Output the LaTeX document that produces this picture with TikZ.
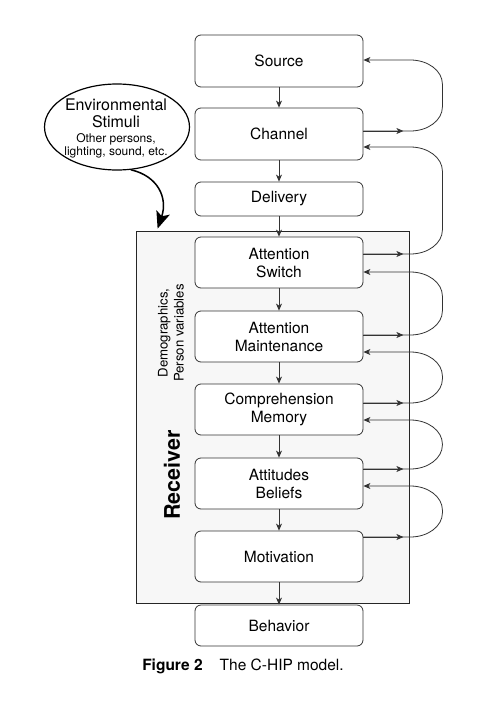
\documentclass[tikz,border=0pt]{standalone}
\usepackage{fontspec}
\setmainfont{TeX Gyre Heros}
\usetikzlibrary{shapes.geometric,arrows.meta,calc}
\begin{document}
\begin{tikzpicture}[x=1pt,y=-1pt,
  box/.style={draw=black!80,fill=white,line width=0.8pt,rounded corners=6pt,minimum width=168pt,align=center,inner sep=0pt,
    font=\fontsize{15.5}{18}\selectfont},
  arr/.style={draw=black!80,line width=0.8pt,-{Stealth[length=7pt,width=6pt,inset=2pt]}},
  lin/.style={draw=black!80,line width=0.8pt},
  envbig/.style={inner sep=0pt,anchor=base,font=\fontsize{16}{18}\selectfont},
  envsmall/.style={inner sep=0pt,anchor=base,font=\fontsize{12}{14}\selectfont},
]
\useasboundingbox (0,0) rectangle (485,712);
% receiver box
\node[draw=black!85,line width=0.8pt,fill=black!3,minimum width=273pt,minimum height=372pt,inner sep=0pt] (receiver) at (272.5,417) {};
% boxes
\node[box,minimum height=52pt] (source) at (279,61) {Source};
\node[box,minimum height=52pt] (chan) at (279,134) {Channel};
\node[box,minimum height=34pt] (deliv) at (279,199) {Delivery};
\node[box,minimum height=51pt] (asw) at (279,262.5) {Attention\\Switch};
\node[box,minimum height=51pt] (amain) at (279,336.5) {Attention\\Maintenance};
\node[box,minimum height=51pt] (comp) at (279,409.5) {Comprehension\\Memory};
\node[box,minimum height=51pt] (att) at (279,483.5) {Attitudes\\Beliefs};
\node[box,minimum height=51pt] (motiv) at (279,556.5) {Motivation};
\node[box,minimum height=41pt] (behav) at (279,625.5) {Behavior};
% vertical arrows
\draw[arr] (source) -- (chan);
\draw[arr] (chan) -- (deliv);
\draw[arr] (deliv) -- (asw);
\draw[arr] (asw) -- (amain);
\draw[arr] (amain) -- (comp);
\draw[arr] (comp) -- (att);
\draw[arr] (att) -- (motiv);
\draw[arr] (motiv) -- (behav);
% feedback loops: out node, out offset, in node, in offset, offset of lower straight end
\newcommand\fbloop[5]{%
  \draw[arr] ($(#1.east)+(0,#2)$) -- ++(40,0);
  \draw[lin,{Stealth[length=7pt,width=6pt,inset=2pt]}-] ($(#3.east)+(0,#4)$) -- ++(47,0)
    .. controls +(17.7,0) and +(0,-13.2) .. ++(32,24)
    -- ($(#1.east)+(79,#5)$)
    .. controls +(0,13.2) and +(17.7,0) .. ++(-32,24)
    -- ($(#1.east)+(0,#2)$);}
\fbloop{chan}{-3}{source}{-1}{-27}
\fbloop{asw}{-8.5}{chan}{13}{-32.5}
\fbloop{amain}{-1.5}{asw}{9.5}{-25.5}
\fbloop{comp}{-6.5}{amain}{15.5}{-30.5}
\fbloop{att}{-14.5}{comp}{10.5}{-38.5}
\fbloop{motiv}{-19.5}{att}{2.5}{-43.5}
% receiver labels
\node[rotate=90,align=center,inner sep=0pt,font=\fontsize{13.2}{16}\selectfont] (demo) at (171,333) {Demographics,\\Person variables};
\node[rotate=90,inner sep=0pt,font=\fontsize{21.5}{24}\selectfont\bfseries] (recv) at (172,475) {Receiver};
% environmental stimuli
\node[draw=black,line width=1.2pt,ellipse,minimum width=145pt,minimum height=86pt,inner sep=0pt] (env) at (117,127) {};
\node[envbig] (envl1) at (116,110) {Environmental};
\node[envbig] (envl2) at (116,127) {Stimuli};
\node[envsmall] (envl3) at (116,142) {Other persons,};
\node[envsmall] (envl4) at (116,155) {lighting, sound, etc.};
\coordinate (envtip) at ($(receiver.north west)+(22,-2)$);
\draw[line width=1.5pt,-{Stealth[length=17pt,width=14pt,inset=4pt]}] (env.-72) .. controls (158,176) and (168,198) .. (envtip);
% caption
\node[inner sep=0pt,font=\fontsize{15.5}{18}\selectfont] (caption) at (243,666) {\textbf{Figure 2}\hspace{1.1em}The C-HIP model.};
\end{tikzpicture}
\end{document}
